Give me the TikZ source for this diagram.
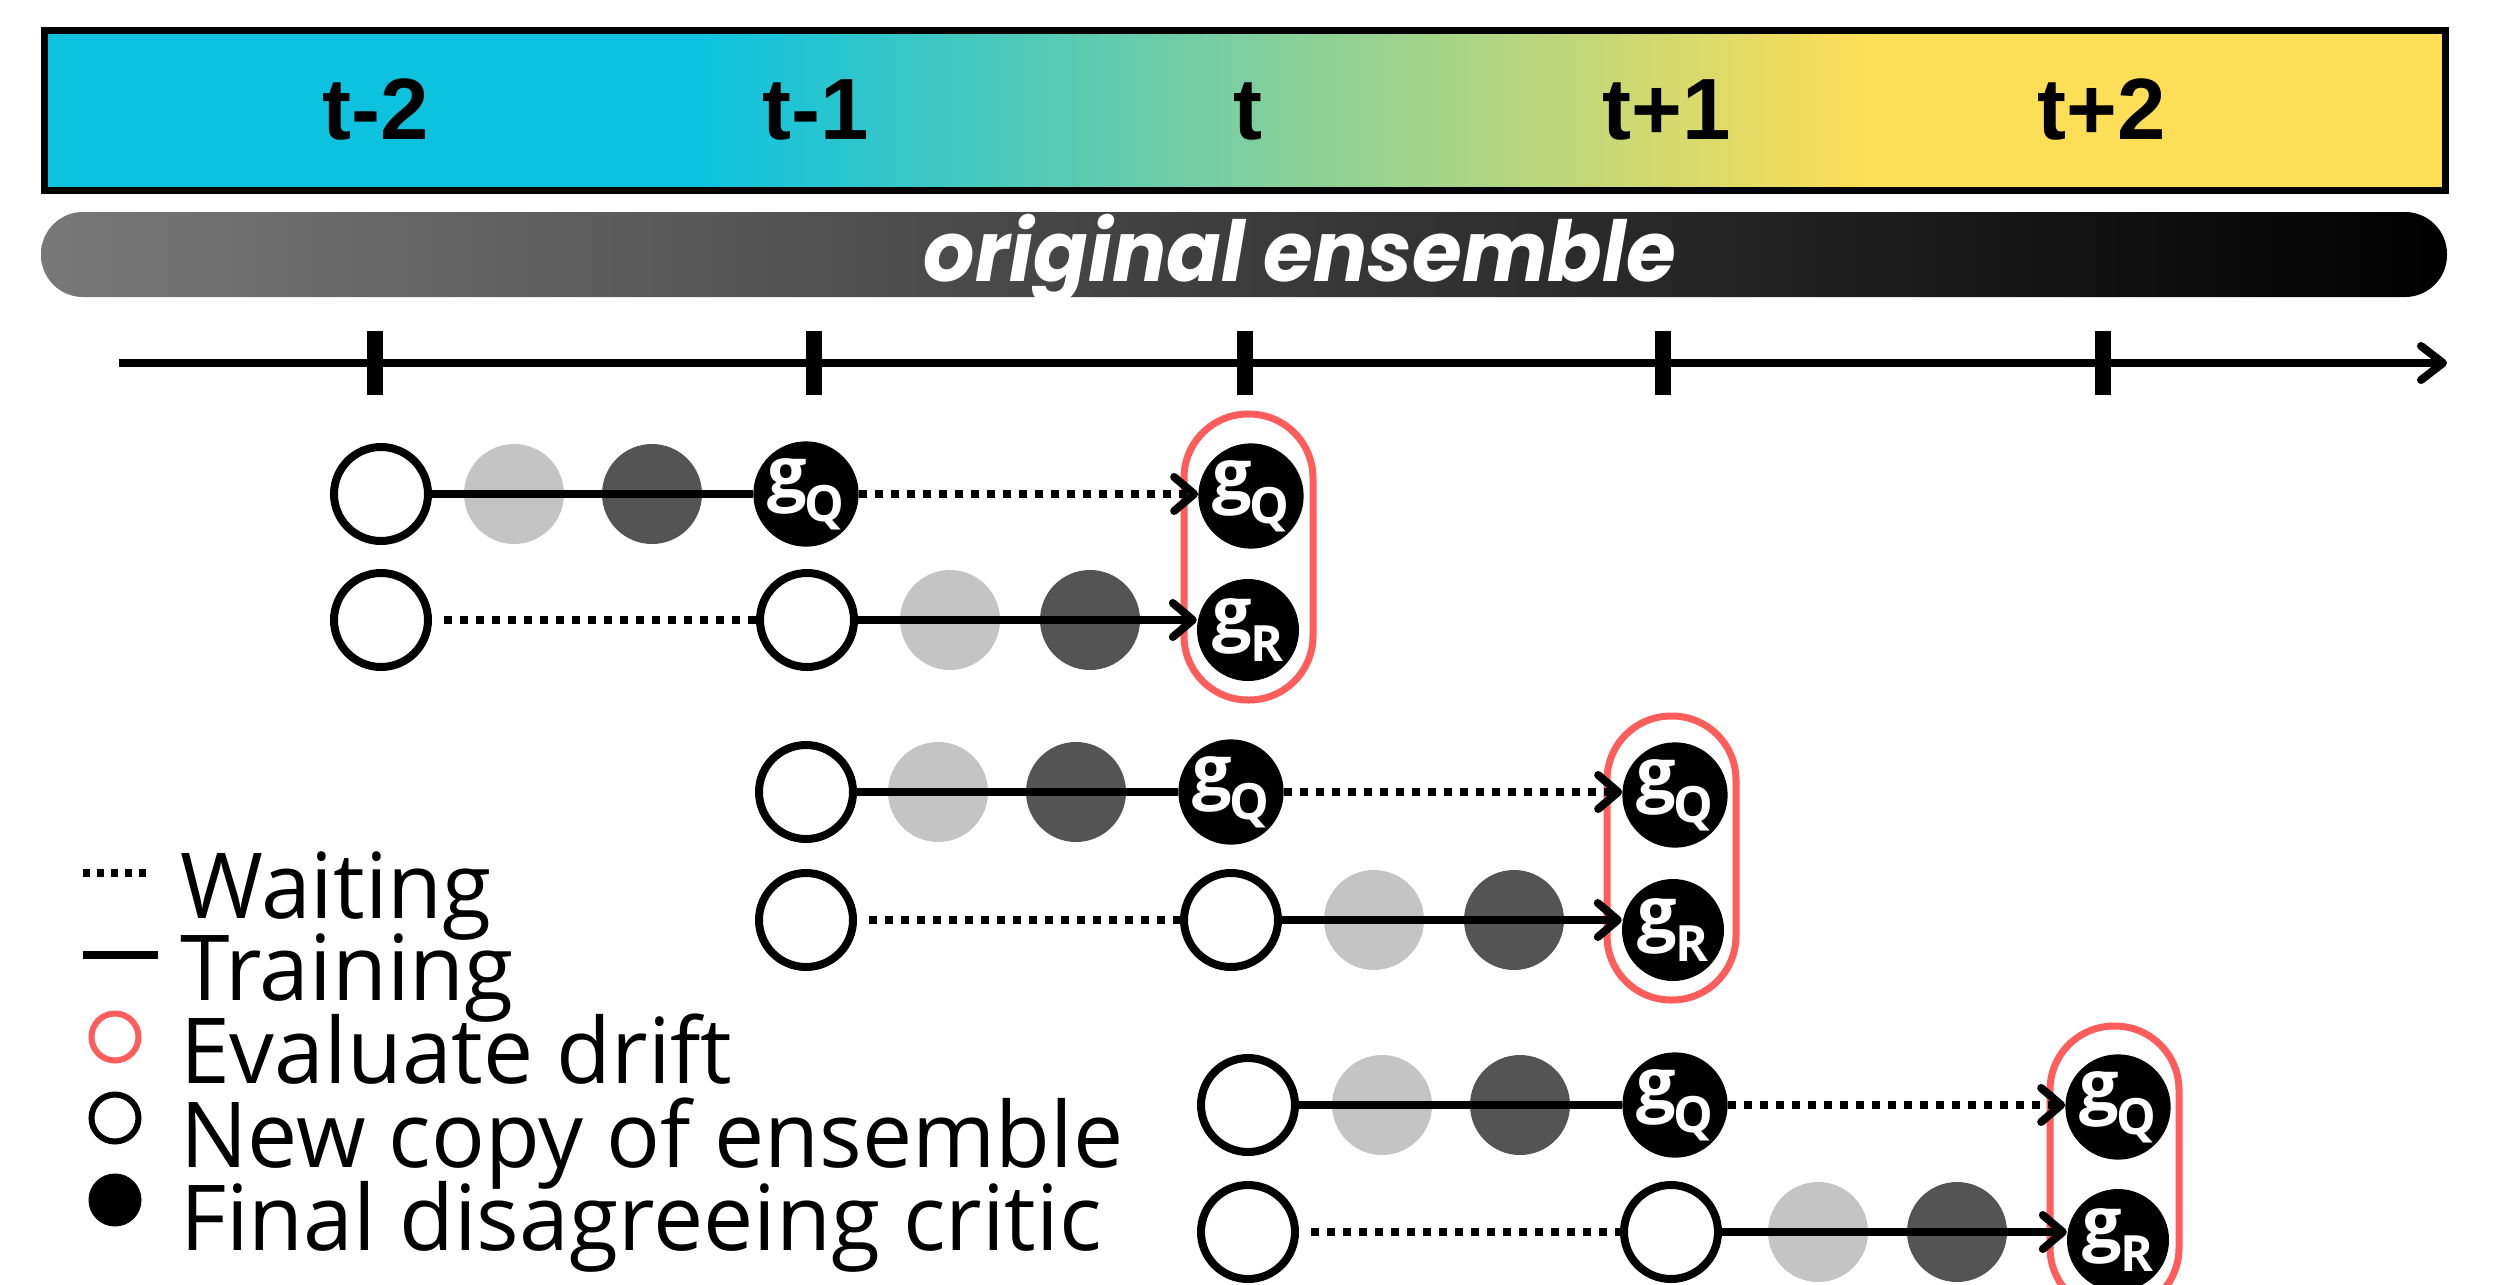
\documentclass[tikz,border=0pt]{standalone}
\usepackage{fontspec}
\usepackage{graphicx}
\usetikzlibrary{arrows.meta}
\setmainfont{Open Sans}
\newfontfamily\legendfont[FakeStretch=0.983]{Open Sans}
\newfontfamily\criticfont{Open Sans}
\newfontfamily\tickfont{Liberation Sans}
\newfontfamily\bandfont{Poppins}
\definecolor{bandcyan}{HTML}{0DC2DF}
\definecolor{bandyellow}{HTML}{FCDE57}
\definecolor{barstart}{HTML}{787878}
\definecolor{stepone}{HTML}{C4C4C4}
\definecolor{steptwo}{HTML}{545454}
\definecolor{driftred}{HTML}{FF5C5C}
% critic label: g with a large subscript
\newcommand\critic[1]{{\criticfont\bfseries\fontsize{70}{70}\selectfont g\kern-2pt\raisebox{-24pt}{\fontsize{50}{50}\selectfont #1}}}
\begin{document}
\begin{tikzpicture}[x=1pt,y=-1pt,
  fresh/.style={circle, draw=black, line width=8pt, fill=white, minimum size=94pt, inner sep=0pt},
  critic/.style={circle, fill=black, minimum size=102pt, inner sep=0pt, text=white},
  stepa/.style={circle, fill=stepone, minimum size=100pt, inner sep=0pt},
  stepb/.style={circle, fill=steptwo, minimum size=100pt, inner sep=0pt},
  train/.style={line width=8pt},
  wait/.style={line width=8pt, dash pattern=on 8pt off 8pt},
  barb/.style={-{Straight Barb[length=20pt,width=34pt,round]}},
  drift/.style={draw=driftred, line width=7pt, rounded corners=64pt},
  ticklabel/.style={anchor=base, inner sep=0pt, font=\tickfont\bfseries\fontsize{87}{87}\selectfont},
  legendtext/.style={anchor=base west, inner sep=0pt, font=\legendfont\fontsize{91}{91}\selectfont},
]
\useasboundingbox (0,0) rectangle (2493,1285);
\clip (0,0) rectangle (2493,1285);

% time band
\fill[bandcyan] (44,30) rectangle (701,190);
\shade[left color=bandcyan, right color=bandyellow] (700,30) rectangle (1861,190);
\fill[bandyellow] (1860,30) rectangle (2445,190);
\draw[line width=7pt] (44,30) rectangle (2445,190);
\node[ticklabel] (lab-m2) at (376,139) {t-2};
\node[ticklabel] (lab-m1) at (816,139) {t-1};
\node[ticklabel] (lab-0) at (1248,139) {t};
\node[ticklabel] (lab-p1) at (1667,139) {t+1};
\node[ticklabel] (lab-p2) at (2102,139) {t+2};

% original ensemble bar
\shade[left color=barstart, right color=black, rounded corners=42pt] (41,212) rectangle (2447,297);
\node[anchor=base, inner sep=0pt, text=white, font=\bandfont\bfseries\itshape\fontsize{84}{84}\selectfont] (orig) at (1300,281) {\scalebox{0.96}[1]{original ensemble}};

% time axis
\coordinate (axstart) at (119,363);
\coordinate (axend) at (2447,363);
\draw[line width=8pt, -{Straight Barb[length=22pt,width=34pt,round]}] (axstart) -- (axend);
\foreach \x in {375,814,1245,1663,2103}
  \draw[line width=16pt] (\x,331) -- (\x,395);

% evaluation windows
\draw[drift] (1184,414) rectangle (1313,700);
\draw[drift] (1607,716) rectangle (1736,1000);
\draw[drift] (2050,1026) rectangle (2179,1312);

% ---- window at t ----
\node[stepa] (a1) at (514,494) {};
\node[stepb] (a2) at (652,494) {};
\node[fresh] (a0) at (381,494) {};
\node[critic] (aq) at (806,494) {\critic{Q}};
\node[critic] (wq1) at (1251,496) {\critic{Q}};
\draw[train] (a0) -- (aq);
\draw[wait, barb] (aq) -- (aq -| wq1.west);

\node[stepa] (b1) at (950,620) {};
\node[stepb] (b2) at (1090,620) {};
\node[fresh] (b0) at (381,620) {};
\node[fresh] (bs) at (807,620) {};
\node[critic] (wr1) at (1248,630) {\critic{R}};
\draw[wait, shorten <=12pt] (b0) -- (bs);
\draw[train, barb] (bs) -- (bs -| wr1.west);

% ---- window at t+1 ----
\node[stepa] (c1) at (938,792) {};
\node[stepb] (c2) at (1076,792) {};
\node[fresh] (c0) at (806,792) {};
\node[critic] (cq) at (1231,792) {\critic{Q}};
\node[critic] (wq2) at (1675,795) {\critic{Q}};
\draw[train] (c0) -- (cq);
\draw[wait, barb] (cq) -- (cq -| wq2.west);

\node[stepa] (d1) at (1374,920) {};
\node[stepb] (d2) at (1514,920) {};
\node[fresh] (d0) at (806,920) {};
\node[fresh] (ds) at (1231,920) {};
\node[critic] (wr2) at (1673,930) {\critic{R}};
\draw[wait, shorten <=12pt] (d0) -- (ds);
\draw[train, barb] (ds) -- (ds -| wr2.west);

% ---- window at t+2 ----
\node[stepa] (e1) at (1382,1105) {};
\node[stepb] (e2) at (1520,1105) {};
\node[fresh] (e0) at (1248,1105) {};
\node[critic] (eq) at (1675,1105) {\critic{Q}};
\node[critic] (wq3) at (2118,1107) {\critic{Q}};
\draw[train] (e0) -- (eq);
\draw[wait, barb] (eq) -- (eq -| wq3.west);

\node[stepa] (f1) at (1818,1232) {};
\node[stepb] (f2) at (1957,1232) {};
\node[fresh] (f0) at (1248,1232) {};
\node[fresh] (fs) at (1671,1232) {};
\node[critic] (wr3) at (2118,1240) {\critic{R}};
\draw[wait, shorten <=12pt] (f0) -- (fs);
\draw[train, barb] (fs) -- (fs -| wr3.west);

% legend
\coordinate (lw0) at (83,873);  \coordinate (lw1) at (153,873);
\coordinate (lt0) at (83,955);  \coordinate (lt1) at (158,955);
\draw[line width=8pt, dash pattern=on 7pt off 7pt] (lw0) -- (lw1);
\draw[train] (lt0) -- (lt1);
\node[circle, draw=driftred, line width=6pt, minimum size=47pt, inner sep=0pt] (ld) at (115,1037) {};
\node[circle, draw=black, line width=6pt, minimum size=47pt, inner sep=0pt] (ln) at (115,1118) {};
\node[circle, fill=black, minimum size=53pt, inner sep=0pt] (lf) at (115,1200) {};
\node[legendtext] (tw) at (180,918) {Waiting};
\node[legendtext] (tt) at (180,1000) {Training};
\node[legendtext] (td) at (180,1083) {Evaluate drift};
\node[legendtext] (tn) at (180,1167) {New copy of ensemble};
\node[legendtext] (tf) at (180,1250) {Final disagreeing critic};
\end{tikzpicture}
\end{document}
